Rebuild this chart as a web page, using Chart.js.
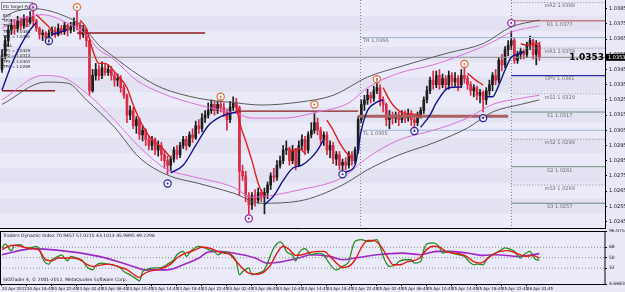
<!DOCTYPE html>
<html><head><meta charset="utf-8">
<script src="https://cdn.jsdelivr.net/npm/chart.js@4.4.1/dist/chart.umd.min.js"></script>
<style>
html,body{margin:0;padding:0;background:#e8e8f6;}
body{width:625px;height:292px;overflow:hidden;position:relative;}
canvas{position:absolute;left:0;}
#main{top:0;}
#tdi{top:229px;}
</style></head><body>
<canvas id="main" width="625" height="229"></canvas>
<canvas id="tdi" width="625" height="63"></canvas>
<script>
const FONT = 'DejaVu Sans';
Chart.defaults.font.family = FONT;

// ---------- DATA ----------
const priceTicks = [1.0385,1.0375,1.0365,1.0355,1.0345,1.0335,1.0325,1.0315,1.0305,1.0295,1.0285,1.0275,1.0265,1.0255,1.0245];
const timeIdx = [0,8,16,24,32,40,48,56,64,72,80,88,96,104,112,120,128,136,144,152,160,168];
const timeLabels = ['20 Apr 2012','20 Apr 18:45','20 Apr 22:45','23 Apr 02:45','23 Apr 06:45','23 Apr 10:45','23 Apr 14:45','23 Apr 18:45','23 Apr 22:45','24 Apr 02:45','24 Apr 06:45','24 Apr 10:45','24 Apr 14:45','24 Apr 18:45','24 Apr 22:45','25 Apr 02:45','25 Apr 06:45','25 Apr 10:45','25 Apr 14:45','25 Apr 18:45','25 Apr 22:45','26 Apr 02:45'];

const firstOpen = 1.0345;
const closes = [
1.0354,1.0364,1.0371,1.0374,1.0372,1.0377,1.0374,1.0379,1.0376,1.0380,
1.0377,1.0372,1.0368,1.0369,1.0366,1.0369,1.0371,1.0368,1.0372,1.0370,
1.0374,1.0371,1.0373,1.0376,1.0374,1.0368,1.0371,1.0364,1.0331,1.0341,
1.0345,1.0341,1.0346,1.0343,1.0345,1.0341,1.0338,1.0339,1.0333,1.0328,
1.0315,1.0318,1.0308,1.0312,1.0302,1.0305,1.0299,1.0295,1.0299,1.0292,
1.0295,1.0289,1.0285,1.0282,1.0286,1.0292,1.0289,1.0295,1.0299,1.0295,
1.0302,1.0300,1.0308,1.0306,1.0313,1.0315,1.0318,1.0322,1.0318,1.0322,
1.0320,1.0317,1.0312,1.0320,1.0323,1.0320,1.0278,1.0275,1.0262,1.0256,
1.0262,1.0259,1.0264,1.0261,1.0264,1.0269,1.0275,1.0274,1.0282,1.0285,
1.0292,1.0293,1.0285,1.0292,1.0282,1.0295,1.0299,1.0292,1.0302,1.0305,
1.0310,1.0305,1.0299,1.0302,1.0292,1.0295,1.0286,1.0289,1.0282,1.0284,
1.0282,1.0289,1.0285,1.0292,1.0312,1.0322,1.0325,1.0328,1.0326,1.0331,
1.0333,1.0325,1.0322,1.0312,1.0315,1.0313,1.0315,1.0312,1.0315,1.0313,
1.0316,1.0312,1.0310,1.0315,1.0318,1.0325,1.0331,1.0338,1.0335,1.0341,
1.0335,1.0339,1.0335,1.0341,1.0337,1.0339,1.0335,1.0341,1.0339,1.0335,
1.0331,1.0333,1.0328,1.0330,1.0325,1.0331,1.0335,1.0341,1.0338,1.0351,
1.0348,1.0358,1.0361,1.0364,1.0351,1.0355,1.0357,1.0355,1.0361,1.0364,
1.0355,1.0361,1.0353];
const highs = [
1.0358,1.0367,1.0374,1.0378,1.0378,1.0380,1.0379,1.0381,1.0380,1.0383,
1.0385,1.0378,1.0373,1.0371,1.0370,1.0371,1.0373,1.0373,1.0375,1.0374,
1.0376,1.0375,1.0376,1.0379,1.0384,1.0376,1.0374,1.0372,1.0364,1.0345,
1.0349,1.0348,1.0350,1.0349,1.0348,1.0347,1.0343,1.0342,1.0341,1.0335,
1.0329,1.0321,1.0320,1.0314,1.0313,1.0308,1.0306,1.0301,1.0301,1.0300,
1.0298,1.0297,1.0292,1.0288,1.0288,1.0294,1.0295,1.0297,1.0301,1.0301,
1.0304,1.0306,1.0311,1.0312,1.0316,1.0318,1.0323,1.0325,1.0324,1.0324,
1.0326,1.0323,1.0319,1.0324,1.0327,1.0326,1.0321,1.0282,1.0278,1.0264,
1.0264,1.0266,1.0267,1.0266,1.0267,1.0271,1.0277,1.0280,1.0285,1.0288,
1.0295,1.0298,1.0294,1.0295,1.0293,1.0298,1.0302,1.0301,1.0304,1.0310,
1.0316,1.0313,1.0307,1.0304,1.0304,1.0298,1.0297,1.0291,1.0291,1.0286,
1.0287,1.0291,1.0291,1.0294,1.0314,1.0325,1.0328,1.0332,1.0330,1.0334,
1.0339,1.0335,1.0327,1.0323,1.0318,1.0317,1.0317,1.0317,1.0318,1.0318,
1.0319,1.0318,1.0314,1.0317,1.0320,1.0327,1.0334,1.0340,1.0344,1.0344,
1.0345,1.0342,1.0341,1.0344,1.0343,1.0343,1.0341,1.0345,1.0347,1.0341,
1.0337,1.0335,1.0334,1.0332,1.0331,1.0333,1.0338,1.0343,1.0345,1.0353,
1.0355,1.0360,1.0364,1.0370,1.0366,1.0357,1.0359,1.0358,1.0363,1.0367,
1.0365,1.0364,1.0363];
const lows = [
1.0343,1.0352,1.0360,1.0368,1.0368,1.0370,1.0371,1.0372,1.0373,1.0375,
1.0374,1.0370,1.0365,1.0364,1.0363,1.0362,1.0367,1.0366,1.0367,1.0368,
1.0368,1.0367,1.0369,1.0370,1.0371,1.0365,1.0366,1.0360,1.0328,1.0330,
1.0338,1.0338,1.0339,1.0341,1.0341,1.0338,1.0334,1.0334,1.0330,1.0326,
1.0310,1.0312,1.0306,1.0303,1.0299,1.0298,1.0295,1.0292,1.0292,1.0289,
1.0288,1.0285,1.0280,1.0276,1.0278,1.0284,1.0286,1.0287,1.0293,1.0292,
1.0294,1.0297,1.0299,1.0303,1.0304,1.0310,1.0313,1.0316,1.0315,1.0316,
1.0317,1.0314,1.0305,1.0310,1.0318,1.0316,1.0262,1.0272,1.0258,1.0250,
1.0253,1.0255,1.0257,1.0258,1.0250,1.0260,1.0266,1.0271,1.0272,1.0280,
1.0283,1.0289,1.0282,1.0283,1.0279,1.0281,1.0292,1.0289,1.0290,1.0300,
1.0303,1.0302,1.0296,1.0295,1.0289,1.0287,1.0283,1.0282,1.0279,1.0278,
1.0279,1.0280,1.0282,1.0283,1.0290,1.0310,1.0318,1.0322,1.0323,1.0324,
1.0329,1.0321,1.0317,1.0308,1.0306,1.0309,1.0310,1.0308,1.0310,1.0310,
1.0311,1.0308,1.0305,1.0308,1.0313,1.0316,1.0323,1.0329,1.0332,1.0333,
1.0332,1.0333,1.0332,1.0332,1.0334,1.0334,1.0331,1.0333,1.0336,1.0332,
1.0328,1.0327,1.0325,1.0323,1.0317,1.0322,1.0328,1.0331,1.0335,1.0336,
1.0344,1.0346,1.0354,1.0358,1.0349,1.0349,1.0352,1.0352,1.0353,1.0358,
1.0352,1.0348,1.0351];

// moving-average style lines: [candle index, price]
const blueSegments = [
  [[0,1.03315],[3,1.0348],[6,1.0361],[9,1.0371],[11,1.0376]],
  [[16,1.0368],[21,1.0371]],
  [[54,1.0277],[58,1.0282],[62,1.0295],[66,1.0308],[70,1.0314],[75,1.0317]],
  [[84,1.0256],[87,1.0262],[90,1.0272],[93,1.0280],[96,1.0282],[99,1.0287],[101,1.0292],[103,1.0299]],
  [[110,1.02775],[113,1.0282],[115,1.0305],[117,1.0318],[120,1.03235],[122,1.0325]],
  [[134,1.0307],[137,1.0315],[139,1.0323],[143,1.0333],[147,1.03335]],
  [[155,1.0327],[157,1.0327],[159,1.03347],[161,1.03446],[163,1.0353],[165,1.0355],[167,1.03565]]
];
const redSegments = [
  [[11,1.0381],[13,1.0377],[15,1.0373],[16,1.0370]],
  [[25,1.03775],[27,1.0372],[29,1.0358],[31,1.0349],[33,1.0349],[35,1.0346],[37,1.0341],[40,1.0333],[42,1.03216],[45,1.0308],[48,1.02986],[51,1.0294],[54,1.0287]],
  [[75,1.03216],[76,1.03105],[78,1.0298],[80,1.0285],[82,1.0270],[84,1.0261]],
  [[92,1.02907],[95,1.0293],[97,1.0290]],
  [[104,1.03117],[106,1.0305],[108,1.0297],[110,1.02907],[112,1.02867]],
  [[122,1.0333],[124,1.0325],[126,1.03196],[129,1.0316],[132,1.03156],[134,1.0314]],
  [[149,1.03426],[151,1.0339],[154,1.03347]],
  [[166,1.0362],[168,1.0361],[170,1.03617],[172,1.0362]]
];
const upperOuter = [[0,1.03775],[2,1.0381],[10,1.0385],[19,1.0381],[26,1.0373],[31,1.0361],[35,1.03545],[44,1.0341],[51,1.0333],[63,1.0326],[75,1.0323],[83,1.03216],[95,1.03235],[106,1.0328],[117,1.0340],[127,1.03466],[143,1.0356],[154,1.0362],[163,1.0373],[172,1.03775]];
const upperInner = [[0,1.0372],[3,1.0376],[13,1.0381],[21,1.03755],[27,1.0368],[31,1.0358],[35,1.0353],[43,1.0338],[51,1.03295],[63,1.03216],[75,1.0316],[80,1.0313],[90,1.0313],[101,1.0317],[111,1.0323],[117,1.0333],[127,1.03426],[138,1.0348],[149,1.0356],[157,1.0363],[163,1.03696],[172,1.03736]];
const lowerInner = [[0,1.0325],[13,1.0341],[19,1.0340],[27,1.03295],[36,1.03117],[44,1.0294],[53,1.0279],[59,1.02755],[74,1.02676],[80,1.0261],[95,1.02657],[109,1.0274],[117,1.0287],[127,1.02986],[138,1.0305],[149,1.0313],[157,1.0322],[166,1.0326],[172,1.0328]];
const lowerOuter = [[0,1.0322],[14,1.03367],[21,1.0336],[27,1.0325],[36,1.0307],[44,1.0287],[53,1.02755],[63,1.0270],[74,1.02637],[83,1.0257],[95,1.02584],[109,1.0269],[117,1.0279],[127,1.02887],[138,1.02966],[149,1.03065],[157,1.0317],[166,1.0322],[172,1.0325]];

// target point markers [index, price]
const purpleMarks = [[10,1.0386],[79,1.0247],[163,1.03755]];
const orangeMarks = [[24,1.0386],[70,1.0327],[100,1.0322],[120,1.03386],[148,1.03486]];
const blueMarks = [[15,1.03637],[53,1.0270],[109,1.0276],[132,1.03045],[154,1.0313]];

// horizontal levels [startIndex, endIndex, price]
const resistanceLines = [[24,65,1.0369],[0,17,1.0331],[75,114,1.03176]];
const zoneLine = [114,162,1.03143];
const currentPrice = 1.0353;
const dayStart = 114.5;
const pivotStart = 163;
const xEnd = 193;
const dayLevelNames = ['TH','TL'];
const dayLevelValues = [1.0366,1.0305];
const pivotNames = ['mR2','R1','mR1','OPV','mS1','S1','mS2','S2','mS3','S3'];
const pivotValues = [1.0389,1.0377,1.0359,1.0341,1.0329,1.0317,1.0299,1.0281,1.0269,1.0257];
const kgLines = ['BUY','TP1 = 1.0376','TP2 = 1.0381','TP3 = 1.0386','TP4 = 1.0391','SELL','TP1 = 1.0329','TP2 = 1.0313','TP3 = 1.0301','TP4 = 1.0289'];

// Traders Dynamic Index
const tdiTicks = [96.0756,68,50,32,4.6683];
const tdiLevels = [68,50,32];
const tdiTitle = 'Traders Dynamic Index 70.9457 57.0215 43.1013 45.9895 49.2296';
const tdiGreen = [[0,66.8],[1,73.8],[3,62],[4,71.5],[6,72.6],[7,68],[9,66.8],[11,69.7],[12,64],[13,49.4],[14,40.7],[15,39],[16,46.5],[18,52.3],[19,55],[21,44.8],[22,52.3],[24,49.4],[26,43.6],[27,35],[29,29],[30,36.7],[32,40.7],[34,39],[36,36.7],[38,32],[39,26.2],[41,20.4],[43,13.5],[44,10],[45,26],[46,29],[48,32],[51,33],[53,39],[55,46.5],[56,55],[58,61],[59,52.3],[60,58],[61,64],[63,69.7],[65,66.8],[66,64],[68,61],[69,55],[71,60],[73,56.4],[75,43.6],[76,20.4],[77,26],[79,32],[80,20.4],[82,23.3],[84,29],[85,40.7],[86,55],[87,66.8],[89,77.3],[90,72.6],[91,61],[93,54],[94,44.8],[95,58],[97,65.7],[99,55],[101,58],[103,55.2],[104,46.5],[106,32],[107,29],[109,35],[110,37.8],[111,43.6],[112,64],[113,78.4],[115,81.3],[117,78.4],[118,78.4],[120,81.3],[121,69.7],[122,52.3],[123,40.7],[124,35],[126,37.8],[127,43.6],[129,46.5],[131,46.5],[132,40.7],[134,43.6],[135,64],[136,73.8],[138,75.5],[140,68],[141,58],[143,61],[144,58],[146,55.2],[148,52.3],[149,46.5],[150,40.7],[151,37.8],[152,39],[154,37.8],[155,46.5],[156,52.3],[158,58],[159,61],[161,66.8],[163,64],[164,61],[166,49.4],[167,55.2],[169,61],[170,52.3],[171,46.5],[172,46]];
const tdiRed = [[0,64],[2,69.7],[4,71.5],[6,69.7],[8,66.8],[10,65.7],[12,62.2],[14,46.5],[16,44.8],[18,49.4],[21,49.4],[23,49.4],[25,46.5],[27,39],[29,35],[31,36.7],[34,39],[36,36.7],[38,33.2],[40,29.4],[42,21.9],[44,16.1],[45,20.7],[47,26.5],[50,29.4],[52,33.2],[54,39],[56,49.4],[58,56.4],[60,59.9],[62,63.9],[64,68],[67,65.7],[69,61],[71,58.1],[73,55.2],[75,43.6],[77,32],[79,23.3],[82,21.6],[84,26],[86,37.8],[88,58.1],[90,69.7],[92,64],[94,54],[96,55.2],[98,58.1],[101,61],[103,61],[105,52.3],[107,41],[109,33.2],[111,35],[113,46.5],[115.6,72.6],[117.2,79.6],[118.8,79.6],[120.4,75.5],[122,64],[123.6,49.4],[125.2,37.8],[127.4,37.8],[129.5,42.4],[131.6,44.8],[133.7,49.4],[135.9,64],[138,69.7],[140.2,68],[142.3,59.9],[144.4,58.1],[146.6,56.4],[148.7,52.3],[150.8,43.6],[153,40.7],[155,46.5],[157,55.2],[159.4,61],[161.5,62.2],[163.6,59.9],[165.8,55.2],[168,52.3],[170,54],[172,49.2]];
const tdiPurple = [[0,55.2],[10,65.7],[21,61],[31,52.3],[37,43.6],[42,35],[46,29],[53,29],[58,37.8],[63,49.4],[66,59.9],[69,61],[74,58],[81,49.4],[85,40.7],[90,43.6],[95,49.4],[99,55.2],[105,52.3],[109,46.5],[113,49.4],[120,55.2],[128,58],[134,55.2],[139,61],[143,61],[149,58],[154,54],[158,55.2],[165,52.3],[172,57]];

// ---------- CHART ----------
const X_MIN = -0.64;
const opens = closes.map((c,i) => i === 0 ? firstOpen : closes[i-1]);
const BULL = '#1c1c1c', BEAR = '#dc2a44';
const candleColors = closes.map((c,i) => c >= opens[i] ? BULL : BEAR);
const pts = arr => arr.map(([x,y]) => ({x, y}));
const lineDs = (arr, color, width, order, extra) => Object.assign({
  type:'line', data: pts(arr), borderColor: color, borderWidth: width,
  pointRadius: 0, fill: false, tension: 0.4, cubicInterpolationMode:'monotone', order
}, extra || {});

const datasets = [];
datasets.push({type:'bar', data: closes.map((c,i)=>({x:i, y:[lows[i], highs[i]]})), backgroundColor: candleColors, barThickness: 1, grouped: false, order: 20});
datasets.push({type:'bar', data: closes.map((c,i)=>({x:i, y:[opens[i], c]})), backgroundColor: candleColors, barThickness: 2, grouped: false, order: 19});
resistanceLines.forEach(([a,b,v]) => datasets.push(lineDs([[a,v],[b,v]], '#8a1c1c', 1.3, 8, {tension:0})));
datasets.push(lineDs([[zoneLine[0],zoneLine[2]],[zoneLine[1],zoneLine[2]]], '#a86060', 3, 9, {tension:0}));
datasets.push(lineDs([[X_MIN,currentPrice],[xEnd,currentPrice]], '#8c8c8c', 1, 12, {tension:0}));
dayLevelValues.forEach(v => datasets.push(lineDs([[dayStart,v],[xEnd,v]], '#9ab8d6', 1, 12, {tension:0})));
pivotNames.forEach((n,k) => {
  const v = pivotValues[k];
  let col = '#6a8a78', dash = [], w = 1;
  if (n.startsWith('m')) { col = '#8a8a8a'; dash = [1,2]; }
  else if (n === 'R1') col = '#b84a50';
  else if (n === 'OPV') { col = '#2a2aa0'; w = 1.2; }
  datasets.push(lineDs([[pivotStart,v],[xEnd,v]], col, w, 12, {tension:0, borderDash: dash}));
});
[upperOuter, lowerOuter].forEach(a => datasets.push(lineDs(a, '#5a5a5a', 1, 6)));
[upperInner, lowerInner].forEach(a => datasets.push(lineDs(a, '#e070d8', 1, 5)));
redSegments.forEach(s => datasets.push(lineDs(s, '#e0201c', 1.4, 4)));
blueSegments.forEach(s => datasets.push(lineDs(s, '#12128c', 1.4, 3)));
const markDs = (arr, col) => [
  {type:'scatter', data: pts(arr), pointRadius: 3.6, pointBorderWidth: 1.2, pointBorderColor: col, pointBackgroundColor: 'rgba(255,255,255,0.55)', order: 2},
  {type:'scatter', data: pts(arr), pointRadius: 1, pointBorderWidth: 0, pointBackgroundColor: col, order: 1}
];
datasets.push(...markDs(purpleMarks, '#8a2aa8'), ...markDs(orangeMarks, '#e4703c'), ...markDs(blueMarks, '#2424a4'));

const mainDecor = {
  id: 'mainDecor',
  beforeDatasetsDraw(chart) {
    const {ctx, chartArea: a, scales: {x, y}} = chart;
    ctx.save();
    const edges = [y.max].concat(priceTicks.map(v => v - 0.0005)).concat([y.min]);
    for (let k = 0; k < edges.length - 1; k++) {
      const y0 = y.getPixelForValue(edges[k]), y1 = y.getPixelForValue(edges[k+1]);
      ctx.fillStyle = k % 2 ? '#e2e2f3' : '#eaeaf8';
      ctx.fillRect(a.left, Math.min(y0,y1), a.width, Math.abs(y1-y0));
    }
    ctx.strokeStyle = '#8a8a8a'; ctx.lineWidth = 1; ctx.setLineDash([1,2]);
    [dayStart, pivotStart].forEach(i => {
      const px = Math.round(x.getPixelForValue(i)) + 0.5;
      ctx.beginPath(); ctx.moveTo(px, a.top); ctx.lineTo(px, a.bottom); ctx.stroke();
    });
    ctx.setLineDash([]);
    // KG panel (under the marks)
    ctx.textAlign = 'left'; ctx.textBaseline = 'middle';
    ctx.fillStyle = 'rgba(240,240,252,0.9)'; ctx.fillRect(1, 2, 32, 8);
    ctx.strokeStyle = '#909090'; ctx.lineWidth = 1; ctx.strokeRect(1.5, 2.5, 31, 7);
    ctx.fillStyle = '#202020'; ctx.font = '4.2px ' + FONT;
    ctx.fillText('KG Target Point', 3, 6.5);
    ctx.font = '4px ' + FONT;
    kgLines.forEach((t,k) => ctx.fillText(t, 3, 16 + k*5.2 + (k >= 5 ? 4 : 0)));
    ctx.restore();
  },
  afterDatasetsDraw(chart) {
    const {ctx, chartArea: a, scales: {x, y}} = chart;
    ctx.save();
    ctx.font = '5px ' + FONT; ctx.fillStyle = '#707070'; ctx.textAlign = 'center'; ctx.textBaseline = 'middle';
    const lx = x.getPixelForValue(178.5);
    pivotNames.forEach((n,k) => ctx.fillText(n + ' ' + pivotValues[k].toFixed(4), lx, y.getPixelForValue(pivotValues[k]) + 3.5));
    ctx.textAlign = 'left';
    dayLevelNames.forEach((n,k) => ctx.fillText(n + ' ' + dayLevelValues[k].toFixed(4), x.getPixelForValue(dayStart) + 3, y.getPixelForValue(dayLevelValues[k]) + 3.5));
    // current price
    const py = y.getPixelForValue(currentPrice);
    ctx.font = 'bold 9px ' + FONT; ctx.textAlign = 'right'; ctx.fillStyle = '#000';
    ctx.fillText(currentPrice.toFixed(4), a.right - 1, py);
    ctx.fillStyle = '#000'; ctx.fillRect(a.right + 1, py - 3.5, 19, 7);
    ctx.fillStyle = '#fff'; ctx.font = '5px ' + FONT; ctx.textAlign = 'left';
    ctx.fillText(currentPrice.toFixed(4), a.right + 3, py);
    // bottom frame
    ctx.strokeStyle = '#000'; ctx.beginPath(); ctx.moveTo(a.left, a.bottom + 0.5); ctx.lineTo(a.right, a.bottom + 0.5); ctx.stroke();
    ctx.restore();
  }
};

new Chart(document.getElementById('main'), {
  type: 'bar',
  data: { datasets },
  options: {
    responsive: false, animation: false, events: [],
    layout: { padding: {top: 0, bottom: 1, left: 0, right: 0}, autoPadding: false },
    plugins: { legend: {display: false}, tooltip: {enabled: false} },
    scales: {
      x: { type: 'linear', min: X_MIN, max: xEnd, display: false, offset: false },
      y: { position: 'right', min: 1.02407, max: 1.03907,
           afterFit(s){ s.width = 20; s.paddingTop = 0; s.paddingBottom = 0; },
           afterBuildTicks(s){ s.ticks = priceTicks.map(v => ({value: v})); },
           ticks: { font: {size: 5}, color: '#111', padding: 2, callback: v => Number(v).toFixed(4) },
           grid: { display: true, drawOnChartArea: false, tickLength: 2, color: '#000' },
           border: { display: true, color: '#000' } }
    }
  },
  plugins: [mainDecor]
});

const tdiDecor = {
  id: 'tdiDecor',
  beforeDatasetsDraw(chart) {
    const {ctx, chartArea: a} = chart;
    ctx.save(); ctx.fillStyle = '#eaeaf8'; ctx.fillRect(a.left, a.top, a.width, a.height); ctx.restore();
  },
  afterDatasetsDraw(chart) {
    const {ctx, chartArea: a} = chart;
    ctx.save();
    ctx.font = '4.5px ' + FONT; ctx.fillStyle = '#202020'; ctx.textAlign = 'left'; ctx.textBaseline = 'middle';
    ctx.fillText(tdiTitle, 3, a.top + 5);
    ctx.fillText('SIGTrader 4, \u00a9 2001-2012, MetaQuotes Software Corp.', 3, a.bottom - 4);
    ctx.strokeStyle = '#000'; ctx.lineWidth = 1;
    ctx.strokeRect(a.left + 0.5, a.top + 0.5, a.width - 0.5, a.height);
    ctx.restore();
  }
};

const tdiDatasets = [];
tdiLevels.forEach(v => tdiDatasets.push(lineDs([[X_MIN,v],[xEnd,v]], '#8c8c8c', 1, 10, {tension: 0, borderDash: [1,2]})));
tdiDatasets.push(lineDs(tdiPurple, '#a028c8', 1.6, 3, {tension: 0.4}));
tdiDatasets.push(lineDs(tdiGreen, '#2a8a22', 1.3, 2, {tension: 0.3}));
tdiDatasets.push(lineDs(tdiRed, '#e01c14', 1.4, 1, {tension: 0.4}));

new Chart(document.getElementById('tdi'), {
  type: 'line',
  data: { datasets: tdiDatasets },
  options: {
    responsive: false, animation: false, events: [],
    layout: { padding: {top: 2, bottom: 0, left: 0, right: 0}, autoPadding: false },
    plugins: { legend: {display: false}, tooltip: {enabled: false} },
    scales: {
      x: { type: 'linear', min: X_MIN, max: xEnd, offset: false,
           afterFit(s){ s.height = 8; s.paddingLeft = 0; s.paddingRight = 0; },
           afterBuildTicks(s){ s.ticks = timeIdx.map(v => ({value: v})); },
           ticks: { font: {size: 4}, color: '#111', padding: 1, align: 'start', autoSkip: false, maxRotation: 0,
                    callback: v => timeLabels[timeIdx.indexOf(v)] },
           grid: { drawOnChartArea: false, tickLength: 2, color: '#000' },
           border: { display: false } },
      y: { position: 'right', min: 4.6683, max: 96.0756,
           afterFit(s){ s.width = 20; s.paddingTop = 0; s.paddingBottom = 0; },
           afterBuildTicks(s){ s.ticks = tdiTicks.map(v => ({value: v})); },
           ticks: { font: {size: 4.5}, color: '#111', padding: 2, callback: v => String(v) },
           grid: { drawOnChartArea: false, tickLength: 2, color: '#000' },
           border: { display: false } }
    }
  },
  plugins: [tdiDecor]
});
</script></body></html>
